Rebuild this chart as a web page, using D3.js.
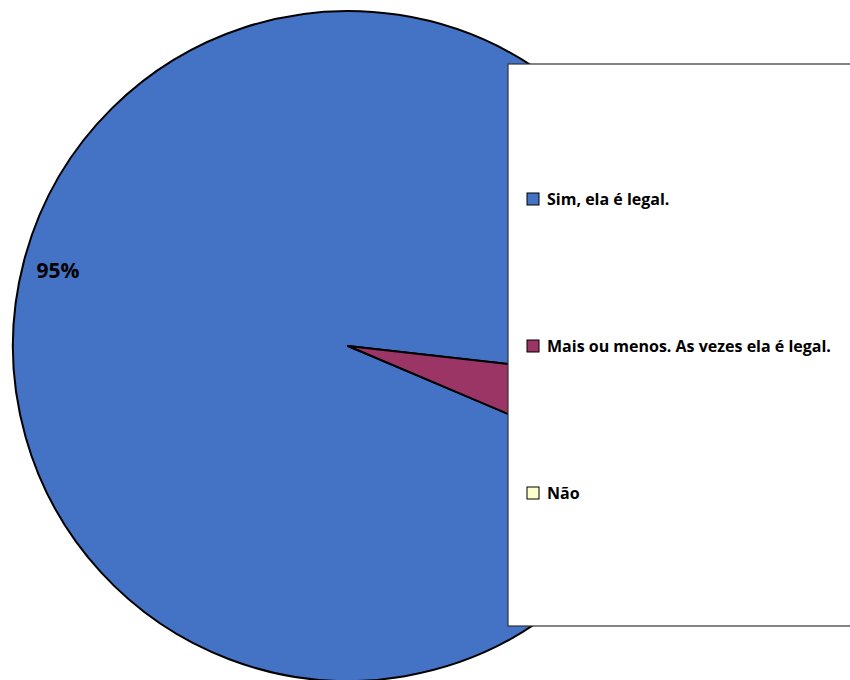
<!DOCTYPE html>
<html>
<head>
<meta charset="utf-8">
<script src="https://cdn.jsdelivr.net/npm/d3@7"></script>
<style>
  html, body { margin: 0; padding: 0; background: #fff; }
  svg { display: block; }
</style>
</head>
<body>
<svg id="chart" width="850" height="680"></svg>
<script>
const categories = ["Sim, ela é legal.", "Mais ou menos. As vezes ela é legal.", "Não"];
const values = [95.4, 4.6, 0];
const colors = ["#4472C4", "#9A3566", "#FFFFCC"];
const shownLabels = ["95%"];

const svg = d3.select("#chart");
const W = 850, H = 680;
const cx = 348, cy = 346, R = 335;

const data = categories.map((c, i) => ({ name: c, value: values[i], color: colors[i] }));
const startAngle = 113 * Math.PI / 180;
const pie = d3.pie().value(d => d.value).sort(null)
  .startAngle(startAngle).endAngle(startAngle + 2 * Math.PI);
const arcs = pie(data);
const arc = d3.arc().innerRadius(0).outerRadius(R);
const labelArc = d3.arc().innerRadius(R * 0.895).outerRadius(R * 0.895);

const g = svg.append("g").attr("transform", `translate(${cx},${cy})`);
g.selectAll("path.slice").data(arcs.filter(a => a.value > 0)).join("path")
  .attr("class", "slice")
  .attr("d", arc)
  .attr("fill", d => d.data.color)
  .attr("stroke", "#000")
  .attr("stroke-width", 2)
  .attr("stroke-linejoin", "round");

g.append("text")
  .datum(arcs[0])
  .attr("transform", d => `translate(${labelArc.centroid(d)})`)
  .attr("text-anchor", "middle")
  .attr("dominant-baseline", "central")
  .attr("font-family", "'Open Sans', sans-serif")
  .attr("font-weight", "bold")
  .attr("font-size", 21)
  .attr("fill", "#000")
  .text(shownLabels[0]);

// Legend
const lx = 508, ly = 64, lw = 350, lh = 562;
const leg = svg.append("g");
leg.append("rect")
  .attr("x", lx).attr("y", ly).attr("width", lw).attr("height", lh)
  .attr("fill", "#fff").attr("stroke", "#333").attr("stroke-width", 1.2);

const rowY = d3.scalePoint().domain(categories).range([199, 493]);
const items = leg.selectAll("g.item").data(data).join("g")
  .attr("class", "item")
  .attr("transform", d => `translate(527,${rowY(d.name)})`);
items.append("rect")
  .attr("x", 0).attr("y", -6).attr("width", 12).attr("height", 12)
  .attr("fill", d => d.color).attr("stroke", "#000").attr("stroke-width", 1);
items.append("text")
  .attr("x", 20).attr("y", 0)
  .attr("dominant-baseline", "central")
  .attr("font-family", "'Open Sans', sans-serif")
  .attr("font-weight", "bold")
  .attr("font-size", 16)
  .attr("fill", "#000")
  .text(d => d.name);
</script>
</body>
</html>
